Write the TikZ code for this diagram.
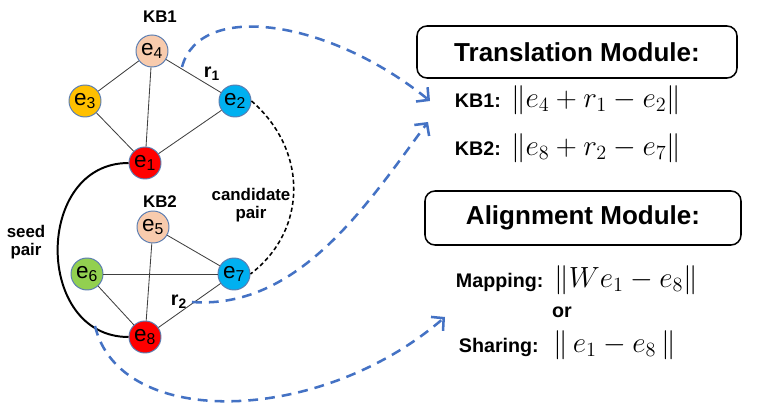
\documentclass[tikz,border=0pt]{standalone}
\usepackage{fontspec}
\setmainfont{Liberation Sans}
\usetikzlibrary{arrows.meta,positioning,calc}

\definecolor{peach}{HTML}{F8CBAD}
\definecolor{gold}{HTML}{FFC000}
\definecolor{sky}{HTML}{00B0F0}
\definecolor{leaf}{HTML}{92D050}
\definecolor{ring}{HTML}{5B7DB1}
\definecolor{flowblue}{HTML}{4472C4}

\begin{document}
\begin{tikzpicture}[x=0.25mm,y=-0.25mm,
    ent/.style={circle,draw=ring,line width=0.7pt,minimum size=8mm,inner sep=0pt,
      font=\fontsize{16}{16}\selectfont},
    rel/.style={draw=black!75,line width=0.6pt},
    lbl/.style={font=\fontsize{12}{13}\selectfont\bfseries,align=center},
    modbox/.style={draw,rounded corners=2.5mm,line width=1.1pt,
      font=\fontsize{18.5}{19}\selectfont\bfseries},
    loss/.style={anchor=west,font=\fontsize{19.5}{20}\selectfont},
    tag/.style={font=\fontsize{14}{14}\selectfont\bfseries},
    flowarrow/.style={draw=flowblue,line width=1.8pt,dash pattern=on 7pt off 5pt,
      -{Straight Barb[length=2.2mm,width=4.6mm]}}]
  \useasboundingbox (0,0) rectangle (762,418);

  % KB1
  \node[lbl] (kb1) at (160,17) {KB1};
  \node[ent,fill=peach] (e4) at (152,51) {e\textsubscript{4}};
  \node[ent,fill=gold] (e3) at (85,101) {e\textsubscript{3}};
  \node[ent,fill=sky] (e2) at (235,101) {e\textsubscript{2}};
  \node[ent,fill=red] (e1) at (145,163) {e\textsubscript{1}};
  \draw[rel] (e4) -- (e3);
  \draw[rel] (e4) -- (e1);
  \draw[rel] (e4) -- (e2);
  \draw[rel] (e3) -- (e1);
  \draw[rel] (e2) -- (e1);
  \node[tag] (r1) at (212,74) {r\textsubscript{1}};

  % KB2
  \node[lbl] (kb2) at (160,202) {KB2};
  \node[ent,fill=peach] (e5) at (153,227) {e\textsubscript{5}};
  \node[ent,fill=leaf] (e6) at (87,274) {e\textsubscript{6}};
  \node[ent,fill=sky] (e7) at (234,274) {e\textsubscript{7}};
  \node[ent,fill=red] (e8) at (145,337) {e\textsubscript{8}};
  \draw[rel] (e5) -- (e7);
  \draw[rel] (e5) -- (e8);
  \draw[rel] (e6) -- (e7);
  \draw[rel] (e6) -- (e8);
  \draw[rel] (e7) -- (e8);
  \node[tag] (r2) at (179,302) {r\textsubscript{2}};

  % pairs
  \draw[line width=1.4pt] (e1.west) .. controls (34,163) and (34,337) .. (e8.west);
  \node[lbl] (seed) at (26,242) {seed\\pair};
  \draw[line width=1.1pt,dash pattern=on 3pt off 2pt]
    (e2.east) .. controls (308,150) and (308,230) .. (e7.east);
  \node[lbl] (cand) at (251,205) {candidate\\pair};

  % modules
  \node[modbox,minimum width=80mm,minimum height=13mm] (trans) at (577,52)
    {Translation Module:};
  \node[loss] (kb1loss) at (450,100)
    {{\fontsize{14}{14}\selectfont\bfseries KB1:} $\|e_4 + r_1 - e_2\|$};
  \node[loss] (kb2loss) at (450,148)
    {{\fontsize{14}{14}\selectfont\bfseries KB2:} $\|e_8 + r_2 - e_7\|$};
  \node[modbox,minimum width=79mm,minimum height=13.5mm] (align) at (583,218)
    {Alignment Module:};
  \node[loss,font=\fontsize{21}{21}\selectfont] (maploss) at (451,280)
    {{\fontsize{14}{14}\selectfont\bfseries Mapping:} $\|We_1 - e_8\|$};
  \node[tag] (or) at (562,312) {or};
  \node[loss,font=\fontsize{21}{21}\selectfont] (shareloss) at (454,345)
    {{\fontsize{14}{14}\selectfont\bfseries Sharing:}\enspace $\|\,e_1 - e_8\,\|$};

  % dashed hints
  \coordinate (h1) at (182,67);
  \coordinate (t1) at (430,101);
  \coordinate (t2) at (428,122);
  \coordinate (h3) at (95,326);
  \coordinate (t3) at (445,317);
  \draw[flowarrow] (h1) .. controls (200,0) and (330,20) .. (t1);
  \draw[flowarrow] (r2.east) .. controls (300,310) and (370,200) .. (t2);
  \draw[flowarrow] (h3) .. controls (120,430) and (320,425) .. (t3);
\end{tikzpicture}
\end{document}
